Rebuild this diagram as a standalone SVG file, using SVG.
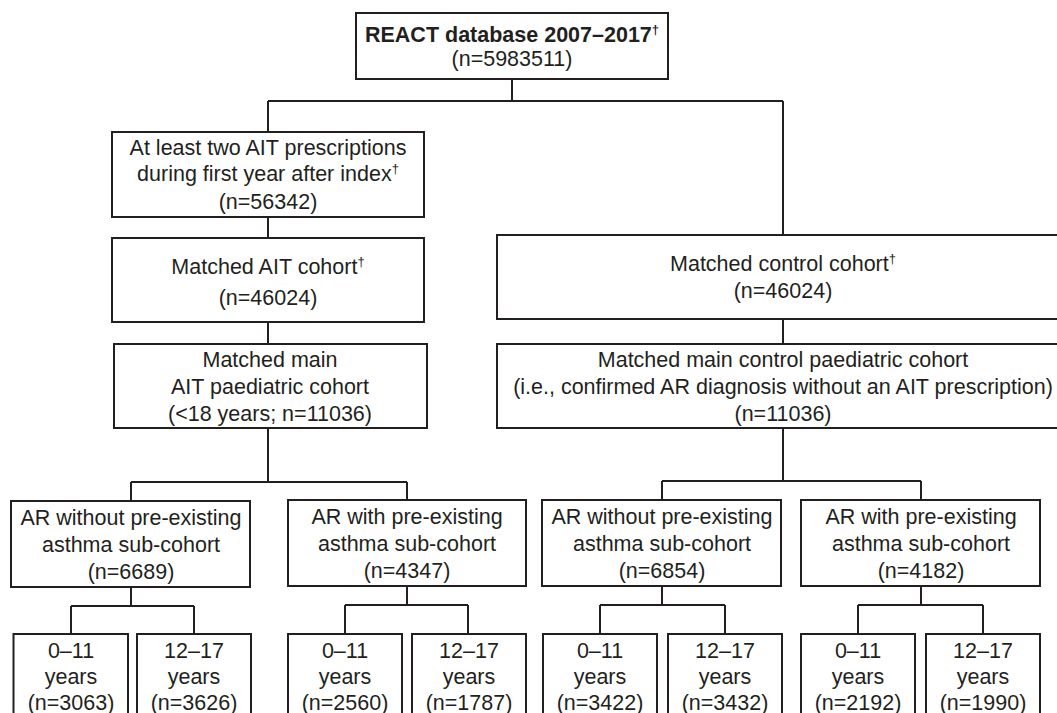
<svg xmlns="http://www.w3.org/2000/svg" width="1057" height="713" viewBox="0 0 1057 713">
<style>
.box{fill:#fff;stroke:#231f20;stroke-width:2}
.ln{fill:none;stroke:#231f20;stroke-width:2}
text{font-family:"Liberation Sans",Arial,sans-serif;font-size:21.5px;fill:#231f20;text-anchor:middle}
.b{font-weight:bold}
.sup{font-size:13px}
</style>
<rect width="1057" height="713" fill="#fff"/>
<g id="connectors">
<path class="ln" d="M512,79V101M268,101H783M268,101V132M783,101V235"/>
<path class="ln" d="M268,217V238M268,322V344M783,319V344"/>
<path class="ln" d="M268,428V482M131,482H407M131,482V501M407,482V500"/>
<path class="ln" d="M783,428V481M662,481H921M662,481V500M921,481V500"/>
<path class="ln" d="M131,587V606M71,606H194M71,606V634M194,606V634"/>
<path class="ln" d="M407,586V605M345,605H468M345,605V634M468,605V634"/>
<path class="ln" d="M662,586V605M600,605H725M600,605V634M725,605V634"/>
<path class="ln" d="M921,586V605M858,605H983M858,605V634M983,605V634"/>
</g>
<g id="react">
<rect class="box" x="356" y="13" width="312" height="66"/>
<text x="512" y="42" class="b">REACT database 2007–2017<tspan class="sup" dy="-8">†</tspan></text>
<text x="512" y="66">(n=5983511)</text>
</g>
<g id="ait-presc">
<rect class="box" x="112" y="132" width="312" height="85"/>
<text x="268" y="155">At least two AIT prescriptions</text>
<text x="268" y="181">during first year after index<tspan class="sup" dy="-8">†</tspan></text>
<text x="268" y="209">(n=56342)</text>
</g>
<g id="ait-matched">
<rect class="box" x="112" y="238" width="312" height="84"/>
<text x="268" y="274">Matched AIT cohort<tspan class="sup" dy="-8">†</tspan></text>
<text x="268" y="305">(n=46024)</text>
</g>
<g id="ait-main">
<rect class="box" x="114" y="344" width="313" height="84"/>
<text x="270" y="367">Matched main</text>
<text x="270" y="394">AIT paediatric cohort</text>
<text x="270" y="421">(&lt;18 years; n=11036)</text>
</g>
<g id="ctl-matched">
<rect class="box" x="497" y="235" width="572" height="84"/>
<text x="783" y="271">Matched control cohort<tspan class="sup" dy="-8">†</tspan></text>
<text x="783" y="298">(n=46024)</text>
</g>
<g id="ctl-main">
<rect class="box" x="497" y="344" width="572" height="84"/>
<text x="783" y="367">Matched main control paediatric cohort</text>
<text x="783" y="394">(i.e., confirmed AR diagnosis without an AIT prescription)</text>
<text x="783" y="421">(n=11036)</text>
</g>
<g id="sub1">
<rect class="box" x="11" y="501" width="239" height="86"/>
<text x="131" y="525">AR without pre-existing</text>
<text x="131" y="552">asthma sub-cohort</text>
<text x="131" y="579">(n=6689)</text>
</g>
<g id="sub2">
<rect class="box" x="288" y="500" width="238" height="86"/>
<text x="407" y="524">AR with pre-existing</text>
<text x="407" y="551">asthma sub-cohort</text>
<text x="407" y="578">(n=4347)</text>
</g>
<g id="sub3">
<rect class="box" x="542" y="500" width="239" height="86"/>
<text x="662" y="524">AR without pre-existing</text>
<text x="662" y="551">asthma sub-cohort</text>
<text x="662" y="578">(n=6854)</text>
</g>
<g id="sub4">
<rect class="box" x="801" y="500" width="239" height="86"/>
<text x="921" y="524">AR with pre-existing</text>
<text x="921" y="551">asthma sub-cohort</text>
<text x="921" y="578">(n=4182)</text>
</g>
<g id="leaf1"><rect class="box" x="13.5" y="634" width="114.5" height="100"/><text x="71" y="658">0–11</text><text x="71" y="684">years</text><text x="71" y="710">(n=3063)</text></g>
<g id="leaf2"><rect class="box" x="137" y="634" width="114" height="100"/><text x="194" y="658">12–17</text><text x="194" y="684">years</text><text x="194" y="710">(n=3626)</text></g>
<g id="leaf3"><rect class="box" x="288" y="634" width="114" height="100"/><text x="345" y="658">0–11</text><text x="345" y="684">years</text><text x="345" y="710">(n=2560)</text></g>
<g id="leaf4"><rect class="box" x="412" y="634" width="114" height="100"/><text x="469" y="658">12–17</text><text x="469" y="684">years</text><text x="469" y="710">(n=1787)</text></g>
<g id="leaf5"><rect class="box" x="543" y="634" width="114" height="100"/><text x="600" y="658">0–11</text><text x="600" y="684">years</text><text x="600" y="710">(n=3422)</text></g>
<g id="leaf6"><rect class="box" x="668" y="634" width="114" height="100"/><text x="725" y="658">12–17</text><text x="725" y="684">years</text><text x="725" y="710">(n=3432)</text></g>
<g id="leaf7"><rect class="box" x="801" y="634" width="114" height="100"/><text x="858" y="658">0–11</text><text x="858" y="684">years</text><text x="858" y="710">(n=2192)</text></g>
<g id="leaf8"><rect class="box" x="926" y="634" width="114" height="100"/><text x="983" y="658">12–17</text><text x="983" y="684">years</text><text x="983" y="710">(n=1990)</text></g>
</svg>
